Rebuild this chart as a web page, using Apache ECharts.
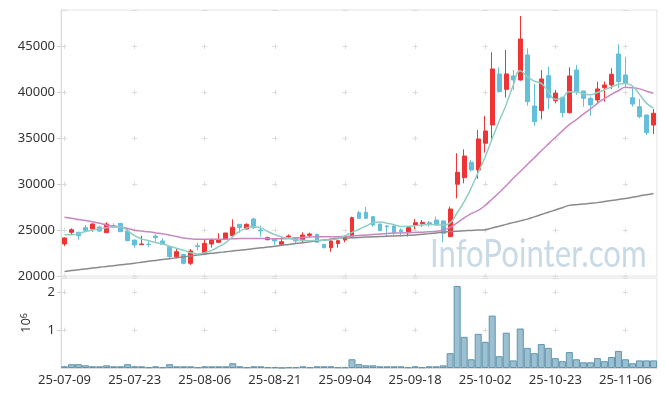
<!DOCTYPE html>
<html><head><meta charset="utf-8">
<script src="https://cdn.jsdelivr.net/npm/echarts@6/dist/echarts.min.js"></script>
<style>html,body{margin:0;padding:0;background:#fff}#c{width:665px;height:396px}</style>
</head><body><div id="c"></div>
<script>
const dates = ['25-07-09','25-07-10','25-07-11','25-07-14','25-07-15','25-07-16','25-07-17','25-07-18','25-07-21','25-07-22','25-07-23','25-07-24','25-07-25','25-07-28','25-07-29','25-07-30','25-07-31',
'25-08-01','25-08-04','25-08-05','25-08-06','25-08-07','25-08-08','25-08-11','25-08-12','25-08-13','25-08-14','25-08-18','25-08-19','25-08-20','25-08-21','25-08-22','25-08-25','25-08-26','25-08-27','25-08-28','25-08-29',
'25-09-01','25-09-02','25-09-03','25-09-04','25-09-05','25-09-08','25-09-09','25-09-10','25-09-11','25-09-12','25-09-15','25-09-16','25-09-17','25-09-18','25-09-19','25-09-22','25-09-23','25-09-24','25-09-25','25-09-26','25-09-29','25-09-30',
'25-10-01','25-10-02','25-10-10','25-10-13','25-10-14','25-10-15','25-10-16','25-10-17','25-10-20','25-10-21','25-10-22','25-10-23','25-10-24','25-10-27','25-10-28','25-10-29','25-10-30','25-10-31',
'25-11-03','25-11-04','25-11-05','25-11-06','25-11-07','25-11-10','25-11-11','25-11-12'];

const opens = [23500,24760,24760,25270,25120,25340,24720,25490,25740,24900,
23920,23420,23470,24360,23820,23200,22110,22360,21380,23300,
22470,23490,23670,24030,24400,25630,25120,26210,25020,23960,
24030,23450,24250,24180,23920,24430,24540,23450,23090,23550,
23920,24360,26900,26940,26470,25670,25450,25450,25020,24720,
25560,25700,25810,26100,26000,24290,30000,30720,32400,31560,
34470,36470,42030,40350,41810,41370,44100,38540,38030,41840,
39120,39480,37810,42460,40170,39370,39190,40530,40830,44200,
41920,39440,38460,37550,36460];
const closes = [24150,25050,24400,24940,25670,24900,25670,25340,24830,23850,
23380,23490,23420,24180,23450,22110,22650,21380,22730,23200,
23560,23920,23960,24690,25310,25270,25630,25270,24910,24180,
23820,23740,24360,23820,24470,24580,23670,23090,23820,23850,
24290,26360,26290,26290,25560,24940,25380,24720,24830,25270,
25810,25850,25670,25560,24650,27300,31300,33080,31560,34940,
35810,42570,40100,42030,41370,45840,39010,36830,41480,39440,
39920,37810,41810,40100,39370,38650,40390,40830,41990,41190,
41010,38750,37370,35630,37740];
const lows = [23250,24470,23960,24900,24830,24830,24700,25200,24800,23800,
23090,23400,23130,23740,23380,21930,21930,21270,21200,22800,
22360,23090,23650,23960,24290,24720,25100,25120,24290,23890,
23380,23420,24110,23560,23670,24220,23600,23020,22650,23090,
23670,24290,26250,26210,25380,24900,24360,24470,24400,24290,
25090,25380,25380,25450,23670,24250,28470,30100,31380,30580,
33450,34720,39990,39480,40280,41300,38570,36390,37080,38210,
38830,37300,37700,39740,38460,37480,38830,39010,40390,40460,
40460,38460,37190,35370,35480];
const highs = [24200,25200,24830,25560,25740,25490,25850,25740,25780,25200,
23950,24400,23820,24540,24100,23230,23020,22400,22940,23600,
24000,24110,24650,24700,26180,25650,25740,26360,25490,24290,
24050,24220,24540,24200,24760,24720,24600,23480,24110,23920,
24400,26470,27090,27520,26500,25700,25560,25560,25200,25380,
26210,26100,26000,26470,26050,27560,33380,33810,32650,35920,
37450,44390,42750,44640,42460,48350,44820,40940,42460,42820,
40280,39500,42750,43000,40200,39550,41190,41190,42640,45260,
43910,40460,39300,37600,38210];

const ma5 = [24500,24500,24620,24850,25015,25150,25270,25350,25350,24950,
24400,24050,23850,23650,23480,23250,23020,22800,22550,22400,
22550,22800,23200,23650,24300,24900,25250,25380,25250,24850,
24500,24250,24100,23950,23900,23850,23870,23900,23950,24050,
24400,24750,25100,25450,25800,25900,25760,25600,25400,25420,
25490,25560,25620,25580,25560,25800,26900,28100,29600,31300,
33000,35000,36900,38700,40800,42380,41730,41250,41000,40100,
39260,39450,40100,40050,39880,39750,40000,40300,40600,40900,
41000,40700,39800,38850,38300];
const ma20 = [26400,26300,26150,26050,25920,25750,25570,25450,25350,25180,
25000,24900,24820,24700,24600,24450,24300,24150,24050,24000,
24000,24000,24000,24020,24050,24080,24100,24100,24100,24080,
24060,24050,24100,24150,24200,24250,24270,24280,24285,24285,
24300,24360,24420,24480,24530,24580,24640,24680,24700,24720,
24750,24780,24820,24870,25000,25300,25800,26350,26800,27150,
27700,28400,29100,29850,30650,31400,32150,32900,33650,34380,
35100,35820,36500,37050,37650,38200,38830,39350,39800,40200,
40570,40520,40400,40150,39920];
const ma120 = [20500,20590,20680,20770,20860,20950,21040,21130,21220,21310,
21400,21500,21600,21700,21800,21890,21990,22090,22190,22290,
22380,22470,22550,22640,22730,22820,22900,22990,23080,23160,
23250,23350,23440,23540,23630,23730,23820,23920,24010,24110,
24140,24170,24200,24240,24270,24300,24330,24370,24400,24440,
24470,24550,24620,24700,24780,24850,24890,24930,24970,25010,
25050,25240,25430,25630,25820,26010,26200,26450,26700,26950,
27200,27450,27700,27780,27850,27930,28000,28110,28230,28340,
28450,28590,28730,28860,29000];

const volumes = [45000,100000,100000,70000,45000,45000,70000,45000,45000,100000,
45000,45000,20000,45000,20000,100000,45000,45000,45000,20000,
45000,45000,45000,45000,125000,45000,20000,45000,45000,20000,
20000,5000,20000,20000,45000,20000,45000,45000,45000,20000,
20000,230000,100000,70000,70000,45000,45000,45000,45000,20000,
45000,20000,45000,45000,70000,390000,2160000,820000,230000,900000,
690000,1380000,310000,930000,200000,1040000,530000,390000,630000,530000,
260000,180000,420000,230000,150000,150000,260000,180000,290000,450000,
230000,125000,200000,200000,200000];

const priceMin = 20000, priceMax = 49000, priceStep = 5000;
const volMax = 2370000, volStep = 1000000;
const watermark = 'InfoPointer.com';

const G0 = {left: 61, top: 10, width: 596, height: 266};
const G1 = {left: 61, top: 278, width: 596, height: 90};
const catW = G0.width / dates.length;
const periodX = catW * 10;
const pxPrice = G0.height / (priceMax - priceMin) * priceStep;
const pxVol = G1.height / volMax * volStep;
const firstPriceTick = G0.height / (priceMax - priceMin) * (priceMax - 45000);
const firstVolTick = G1.height / volMax * (volMax - 2000000);

const crossColor = '#dcdcdc';
const hLine = {show: true, lineStyle: {color: crossColor, width: 1, type: [5, periodX - 5], dashOffset: periodX - (catW / 2 - 2.5)}};
const vLine0 = {show: true, interval: 9, alignWithLabel: true, lineStyle: {color: crossColor, width: 1, type: [5, pxPrice - 5], dashOffset: pxPrice - (firstPriceTick - 2.5)}};
const vLine1 = {show: true, interval: 9, alignWithLabel: true, lineStyle: {color: crossColor, width: 1, type: [5, pxVol - 5], dashOffset: pxVol - (firstVolTick - 2.5)}};

const font = '"Noto Sans", sans-serif';
const chart = echarts.init(document.getElementById('c'), null, {renderer: 'canvas'});
chart.setOption({
  animation: false,
  backgroundColor: '#fff',
  grid: [
    Object.assign({show: true, borderColor: '#e3e3e3', borderWidth: 1}, G0),
    Object.assign({show: true, borderColor: '#e3e3e3', borderWidth: 1}, G1)
  ],
  graphic: [{type: 'text', x: 430, y: 235, scaleX: 0.8, z: 0, silent: true,
    style: {text: watermark, font: '39px Lato, "Noto Sans", sans-serif', fill: '#c8dae6', textVerticalAlign: 'top'}}],
  xAxis: [
    {type: 'category', gridIndex: 0, data: dates, boundaryGap: true,
     axisLine: {show: false}, axisTick: {show: false}, axisLabel: {show: false}, splitLine: vLine0},
    {type: 'category', gridIndex: 1, data: dates, boundaryGap: true,
     axisLine: {show: true, lineStyle: {color: '#dcdcdc'}}, axisTick: {show: false},
     axisLabel: {interval: 9, color: '#333', fontSize: 13, fontFamily: font, margin: 6}, splitLine: vLine1}
  ],
  yAxis: [
    {type: 'value', gridIndex: 0, min: priceMin, max: priceMax, interval: priceStep,
     axisLine: {show: true, lineStyle: {color: '#dcdcdc'}}, axisTick: {show: true, length: 4, lineStyle: {color: '#cfcfcf'}},
     axisLabel: {showMaxLabel: false, color: '#333', fontSize: 13, fontFamily: font, margin: 6,
       formatter: v => String(v)}, splitLine: hLine},
    {type: 'value', gridIndex: 1, min: 0, max: volMax, interval: volStep,
     name: '10{s|6}', nameLocation: 'middle', nameRotate: 90, nameGap: 28,
     nameTextStyle: {color: '#333', fontSize: 13, fontFamily: font, rich: {s: {fontSize: 9, verticalAlign: 'top', color: '#333', fontFamily: font}}},
     axisLine: {show: true, lineStyle: {color: '#dcdcdc'}}, axisTick: {show: true, length: 4, lineStyle: {color: '#cfcfcf'}},
     axisLabel: {showMaxLabel: false, showMinLabel: false, color: '#333', fontSize: 13, fontFamily: font, margin: 6,
       formatter: v => String(v / 1000000)}, splitLine: hLine}
  ],
  series: [
    {type: 'candlestick', xAxisIndex: 0, yAxisIndex: 0, barWidth: '62%',
     data: dates.map((d, i) => [opens[i], closes[i], lows[i], highs[i]]),
     itemStyle: {color: '#ee3434', color0: '#63bfda', borderColor: '#ee3434', borderColor0: '#63bfda', borderWidth: 1}},
    {type: 'line', xAxisIndex: 0, yAxisIndex: 0, data: ma120, symbol: 'none', smooth: true,
     lineStyle: {color: '#8a8a8a', width: 1.5}},
    {type: 'line', xAxisIndex: 0, yAxisIndex: 0, data: ma20, symbol: 'none', smooth: true,
     lineStyle: {color: '#c987c2', width: 1.5}},
    {type: 'line', xAxisIndex: 0, yAxisIndex: 0, data: ma5, symbol: 'none', smooth: true,
     lineStyle: {color: '#8fcec3', width: 1.5}},
    {type: 'bar', xAxisIndex: 1, yAxisIndex: 1, data: volumes, barCategoryGap: '0%',
     itemStyle: {color: '#9cc0d1', borderColor: '#5f95ae', borderWidth: 1}}
  ]
});
</script></body></html>
